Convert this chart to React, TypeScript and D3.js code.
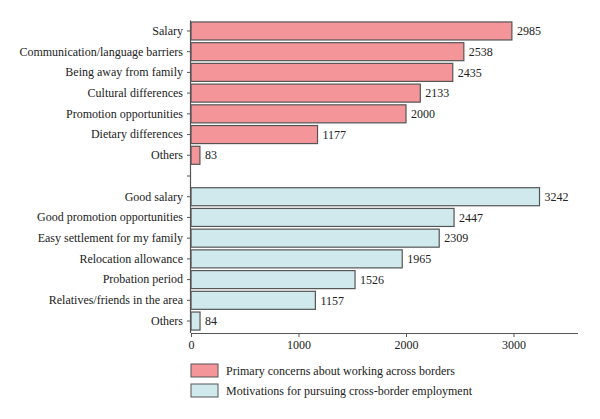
import * as d3 from "d3";
import { useEffect, useRef } from "react";

const concerns = ["Salary", "Communication/language barriers", "Being away from family", "Cultural differences", "Promotion opportunities", "Dietary differences", "Others"];
const concernValues = [2985, 2538, 2435, 2133, 2000, 1177, 83];
const motivations = ["Good salary", "Good promotion opportunities", "Easy settlement for my family", "Relocation allowance", "Probation period", "Relatives/friends in the area", "Others"];
const motivationValues = [3242, 2447, 2309, 1965, 1526, 1157, 84];
const xTicks = [0, 1000, 2000, 3000];
const legendLabels = ["Primary concerns about working across borders", "Motivations for pursuing cross-border employment"];
const colors = ["#f4959a", "#cfe9ec"];

const App = () => {
    const ref = useRef<SVGSVGElement>(null);

    useEffect(() => {
        const svg = d3.select(ref.current);
        svg.selectAll("*").remove();

        // one row per category, plus a blank separator slot between the groups
        const rows = [
            ...concerns.map((c, i) => ({ key: "a" + i, label: c, value: concernValues[i], group: 0 })),
            { key: "gap", label: "", value: null, group: -1 },
            ...motivations.map((c, i) => ({ key: "b" + i, label: c, value: motivationValues[i], group: 1 })),
        ];

        const left = 191, right = 578, top = 20.6, bottom = 333;
        const x = d3.scaleLinear().domain([0, 3600]).range([left, right]);
        const y = d3.scaleBand().domain(rows.map(r => r.key)).range([top, 331.4]).paddingInner(0.13).paddingOuter(0.065);

        const font = "'Liberation Serif', 'DejaVu Serif', serif";

        svg.selectAll("rect.bar")
            .data(rows.filter(r => r.value !== null))
            .enter()
            .append("rect")
            .attr("class", "bar")
            .attr("x", x(0))
            .attr("y", d => y(d.key))
            .attr("width", d => x(d.value) - x(0))
            .attr("height", y.bandwidth())
            .attr("fill", d => colors[d.group])
            .attr("stroke", "#555")
            .attr("stroke-width", 1.2);

        svg.selectAll("text.val")
            .data(rows.filter(r => r.value !== null))
            .enter()
            .append("text")
            .attr("class", "val")
            .attr("x", d => x(d.value) + 5)
            .attr("y", d => y(d.key) + y.bandwidth() / 2)
            .attr("dy", "0.35em")
            .attr("font-family", font)
            .attr("font-size", 12)
            .attr("fill", "#222")
            .text(d => d.value);

        const yAxis = d3.axisLeft(y).tickSize(4).tickPadding(4).tickFormat(k => rows.find(r => r.key === k).label);
        const gy = svg.append("g").attr("transform", `translate(${left},0)`).call(yAxis);
        gy.select(".domain").attr("d", `M-0.5,${top}V${bottom}`).attr("stroke", "#555").attr("stroke-width", 1.2);
        gy.selectAll("line").attr("stroke", "#555");
        gy.selectAll("text").attr("font-family", font).attr("font-size", 12).attr("fill", "#222");

        const xAxis = d3.axisBottom(x).tickValues(xTicks).tickSize(4).tickPadding(3).tickFormat(d3.format("d"));
        const gx = svg.append("g").attr("transform", `translate(0,${bottom})`).call(xAxis);
        gx.select(".domain").attr("d", `M${left},0.5H${right}`).attr("stroke", "#555").attr("stroke-width", 1.2);
        gx.selectAll("line").attr("stroke", "#555");
        gx.selectAll("text").attr("font-family", font).attr("font-size", 12).attr("fill", "#222");

        const legend = svg.append("g");
        legendLabels.forEach((l, i) => {
            legend.append("rect")
                .attr("x", 191).attr("y", 364 + i * 20)
                .attr("width", 27).attr("height", 13)
                .attr("fill", colors[i]).attr("stroke", "#555").attr("stroke-width", 1);
            legend.append("text")
                .attr("x", 226).attr("y", 371 + i * 20).attr("dy", "0.35em")
                .attr("font-family", font).attr("font-size", 12).attr("fill", "#222")
                .text(l);
        });
    }, []);

    return <svg ref={ref} width={600} height={419} style={{ position: "absolute", left: 0, top: 0, background: "#fff" }} />;
};

export default App;
